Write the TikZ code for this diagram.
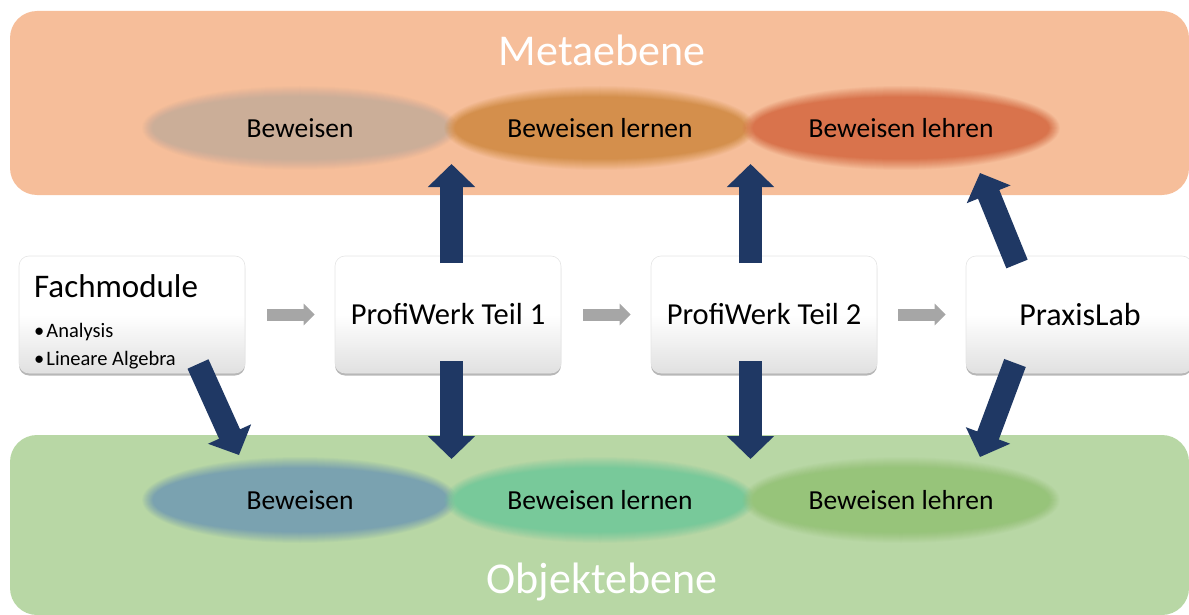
\documentclass[tikz,border=0pt]{standalone}
\usepackage{fontspec}
\setmainfont{Carlito}
\usetikzlibrary{arrows.meta,shadows,shapes.geometric}
\definecolor{metaband}{RGB}{246,190,154}
\definecolor{objband}{RGB}{184,215,165}
\definecolor{navy}{RGB}{31,56,100}
\definecolor{mA}{RGB}{203,174,152}
\definecolor{mB}{RGB}{212,143,76}
\definecolor{mC}{RGB}{217,115,76}
\definecolor{oA}{RGB}{122,162,176}
\definecolor{oB}{RGB}{120,201,154}
\definecolor{oC}{RGB}{151,196,122}
\definecolor{garrow}{RGB}{166,166,166}
\newcommand\glowellipse[4]{%
  \foreach \k in {1,...,12}{%
    \pgfmathsetmacro\glowop{1/(13-\k)}%
    \fill[#4,opacity=\glowop] (#1) ellipse ({#2+7-\k} and {#3+7-\k});}}
\begin{document}
\begin{tikzpicture}[x=1pt,y=-1pt,
  bandlabel/.style={text=white,font=\fontsize{44}{50}\selectfont,inner sep=0pt},
  elltext/.style={ellipse,minimum width=300pt,minimum height=72pt,inner sep=0pt,font=\fontsize{27.5}{32}\selectfont},
  box/.style={rounded corners=10pt,draw=black!10,line width=0.6pt,top color=white,bottom color=black!12,middle color=white,
    drop shadow={shadow xshift=0pt,shadow yshift=-2.5pt,opacity=0.4,fill=black!70},
    minimum width=226pt,minimum height=117pt,inner sep=0pt},
  boxtext/.style={font=\fontsize{30.5}{35}\selectfont},
  graystep/.style={draw=garrow,line width=12pt,-{Triangle[width=21pt,length=11pt]}},
  bigarrow/.style={draw=navy,line width=23pt,-{Triangle[width=46pt,length=23pt]}}]
\useasboundingbox (0,0) rectangle (1189,615);
% bands
\fill[metaband,rounded corners=27pt] (10,11) rectangle (1189,195);
\fill[objband,rounded corners=27pt] (10,435) rectangle (1189,615);
\node[bandlabel] (meta) at (602,50) {Metaebene};
\node[bandlabel] (obj) at (602,582) {Objektebene};
% top ellipses
\coordinate (mAc) at (300,128);
\coordinate (mBc) at (600,128);
\coordinate (mCc) at (901,128);
\glowellipse{mAc}{152}{36}{mA}
\glowellipse{mBc}{150}{36}{mB}
\glowellipse{mCc}{153}{36}{mC}
\node[elltext] (m1) at (mAc) {Beweisen};
\node[elltext] (m2) at (mBc) {Beweisen lernen};
\node[elltext] (m3) at (mCc) {Beweisen lehren};
% bottom ellipses
\coordinate (oAc) at (300,500);
\coordinate (oBc) at (600,500);
\coordinate (oCc) at (901,500);
\glowellipse{oAc}{152}{37}{oA}
\glowellipse{oBc}{150}{37}{oB}
\glowellipse{oCc}{153}{37}{oC}
\node[elltext] (o1) at (oAc) {Beweisen};
\node[elltext] (o2) at (oBc) {Beweisen lernen};
\node[elltext] (o3) at (oCc) {Beweisen lehren};
% boxes
\node[box] (fach) at (132,314.5) {};
\node[box] (pw1) at (448,314.5) {};
\node[box] (pw2) at (764,314.5) {};
\node[box] (lab) at (1079,314.5) {};
\node[anchor=base west,inner sep=0pt,font=\fontsize{33}{38}\selectfont] (fachT) at (34,297) {Fachmodule};
\node[anchor=base west,inner sep=0pt,font=\fontsize{20.5}{24}\selectfont] (an) at (34,337) {\textbullet\hspace{2pt}Analysis};
\node[anchor=base west,inner sep=0pt,font=\fontsize{20.5}{24}\selectfont] (la) at (34,365) {\textbullet\hspace{2pt}Lineare Algebra};
\node[boxtext] (pw1T) at (448,314.5) {ProfiWerk Teil 1};
\node[boxtext] (pw2T) at (764,314.5) {ProfiWerk Teil 2};
\node[boxtext,font=\fontsize{32}{37}\selectfont] (labT) at (1080,314.5) {PraxisLab};
% grey arrows
\draw[graystep,shorten <=22pt,shorten >=20pt] (fach.east) -- (pw1.west);
\draw[graystep,shorten <=22pt,shorten >=20pt] (pw1.east) -- (pw2.west);
\draw[graystep,shorten <=21pt,shorten >=20pt] (pw2.east) -- (lab.west);
% navy arrows
\coordinate (a1s) at (451.5,263);
\coordinate (a1e) at (451.5,164);
\coordinate (a2s) at (451.5,361);
\coordinate (a2e) at (451.5,459);
\coordinate (a3s) at (750.5,263);
\coordinate (a3e) at (750.5,164);
\coordinate (a4s) at (750.5,361);
\coordinate (a4e) at (750.5,459);
\coordinate (a5s) at (198,364);
\coordinate (a5e) at (239,455);
\coordinate (a6s) at (1017,264);
\coordinate (a6e) at (980,173);
\coordinate (a7s) at (1015,363);
\coordinate (a7e) at (980,457);
\draw[bigarrow] (a1s) -- (a1e);
\draw[bigarrow] (a2s) -- (a2e);
\draw[bigarrow] (a3s) -- (a3e);
\draw[bigarrow] (a4s) -- (a4e);
\draw[bigarrow] (a5s) -- (a5e);
\draw[bigarrow] (a6s) -- (a6e);
\draw[bigarrow] (a7s) -- (a7e);
\end{tikzpicture}
\end{document}
